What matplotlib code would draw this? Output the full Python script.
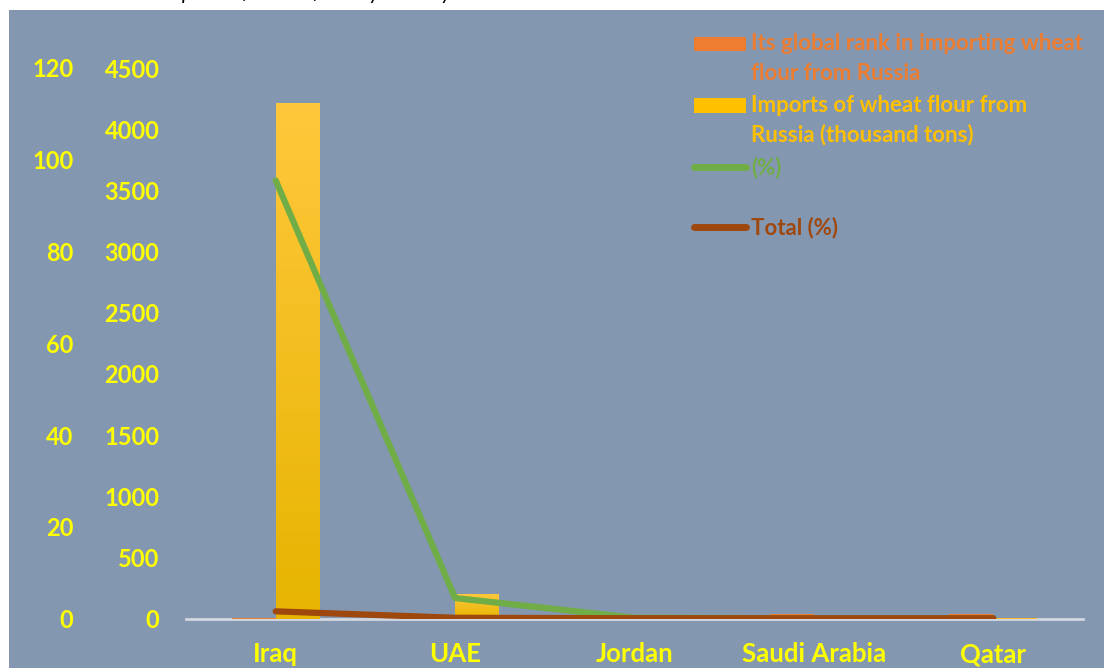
import numpy as np
import matplotlib.pyplot as plt
from matplotlib.patches import Rectangle
from matplotlib.lines import Line2D
from matplotlib.colors import LinearSegmentedColormap

# data
countries = ["Iraq", "UAE", "Jordan", "Saudi Arabia", "Qatar"]
rank = [8, 20, 25, 40, 40]              # global rank in importing wheat flour from Russia
imports = [4215, 200, 15, 3, 8]         # thousand tons
share = [95.5, 4.5, 0.2, 0.1, 0.1]      # (%)
total = [1.6, 0.2, 0.1, 0.1, 0.1]       # Total (%)

bg = "#8497B0"
yellow_txt = "#FFFF00"
orange = "#ED7D31"
gold = "#FFC000"
green = "#70AD47"
brown = "#9E480E"

plt.rcParams['font.family'] = ['Lato', 'DejaVu Sans']
plt.rcParams['font.weight'] = 'bold'

W, H = 1104, 668
fig = plt.figure(figsize=(W / 100, H / 100), dpi=100)
fig.patch.set_facecolor("white")


def fx(px):
    return px / W


def fy(py):
    return 1 - py / H


# grey-blue panel
fig.patches.append(Rectangle((fx(9), 0), 1, fy(10), transform=fig.transFigure,
                             facecolor=bg, edgecolor="none", zorder=-10))

# title, mostly cut off at the top
fig.text(fx(160), fy(-1), "Imports of wheat flour by country",
         fontsize=15, style='italic', fontweight='normal', color='black',
         ha='left', va='baseline')

ax = fig.add_axes([fx(186), fy(618.7), fx(1083) - fx(186), fy(68) - fy(618.7)])
ax.set_facecolor("none")
x = np.arange(len(countries))
bw = 0.245

ax.bar(x - bw / 2, rank, bw, color=orange, zorder=3)
ybars = ax.bar(x + bw / 2, imports, bw, color=gold, zorder=3)

# vertical gradient for the yellow bars
cmap = LinearSegmentedColormap.from_list("g", ["#E6B400", "#FFC83C"])
grad = np.linspace(0, 1, 256).reshape(-1, 1)
for b in ybars:
    bx, by = b.get_x(), b.get_y()
    bwid, bh = b.get_width(), b.get_height()
    im = ax.imshow(grad, cmap=cmap, origin='lower', aspect='auto',
                   extent=[bx, bx + bwid, by, by + bh], zorder=3.1)
    im.set_clip_path(b)

ax.set_xlim(-0.5, 4.5)
ax.set_ylim(0, 4500)
ax.set_yticks(range(0, 4501, 500))
ax.set_xticks(x, countries)
ax.tick_params(axis='y', length=0, pad=19, labelcolor=yellow_txt, labelsize=17)
ax.tick_params(axis='x', length=0, pad=17, labelcolor=yellow_txt, labelsize=18.5)
for lab in ax.get_yticklabels() + ax.get_xticklabels():
    lab.set_fontweight('bold')
for s in ['top', 'right', 'left']:
    ax.spines[s].set_visible(False)
ax.spines['bottom'].set_color("#D3D8E0")
ax.spines['bottom'].set_linewidth(2)

ax2 = ax.twinx()
ax2.set_ylim(0, 120)
ax2.set_yticks(range(0, 121, 20))
ax2.yaxis.set_ticks_position('left')
ax2.tick_params(axis='y', length=0, pad=81, labelcolor=yellow_txt, labelsize=17)
for lab in ax2.get_yticklabels():
    lab.set_fontweight('bold')
for s in ax2.spines.values():
    s.set_visible(False)
ax2.plot(x, share, color=green, lw=4.5, solid_capstyle='round', solid_joinstyle='round')
ax2.plot(x, total, color=brown, lw=4.5, solid_capstyle='round', solid_joinstyle='round')

# legend drawn by hand
fs = 16
fig.patches.append(Rectangle((fx(694), fy(51)), fx(746) - fx(694), fy(37) - fy(51),
                             transform=fig.transFigure, facecolor=orange, edgecolor='none'))
fig.text(fx(751), fy(44), "Its global rank in importing wheat", color=orange, fontsize=fs, va='center')
fig.text(fx(751), fy(73), "flour from Russia", color=orange, fontsize=fs, va='center')
fig.patches.append(Rectangle((fx(694), fy(113)), fx(746) - fx(694), fy(98) - fy(113),
                             transform=fig.transFigure, facecolor=gold, edgecolor='none'))
fig.text(fx(751), fy(105), "Imports of wheat flour from", color=gold, fontsize=fs, va='center')
fig.text(fx(751), fy(135), "Russia (thousand tons)", color=gold, fontsize=fs, va='center')
fig.lines.append(Line2D([fx(694), fx(746)], [fy(167), fy(167)], transform=fig.transFigure,
                        color=green, lw=5, solid_capstyle='round'))
fig.text(fx(751), fy(168), "(%)", color=green, fontsize=fs, va='center')
fig.lines.append(Line2D([fx(694), fx(746)], [fy(227), fy(227)], transform=fig.transFigure,
                        color=brown, lw=5, solid_capstyle='round'))
fig.text(fx(751), fy(228), "Total (%)", color=brown, fontsize=fs, va='center')

fig.savefig("out.png", dpi=100)
